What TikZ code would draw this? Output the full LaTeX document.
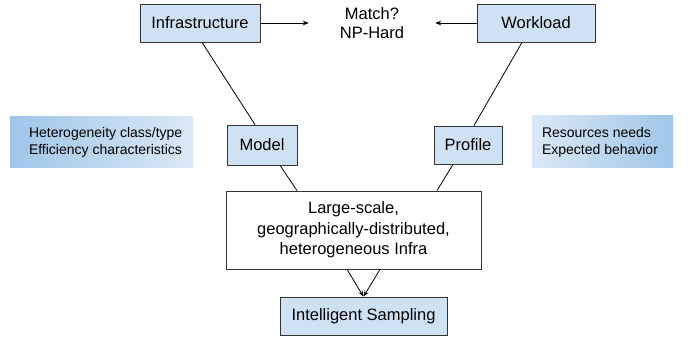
\documentclass[tikz,border=0pt]{standalone}
\usepackage{fontspec}
\setmainfont{Liberation Sans}
\usetikzlibrary{arrows.meta,calc}
\definecolor{boxblue}{HTML}{CFE2F3}
\definecolor{gradDark}{HTML}{9FC5E8}
\definecolor{gradLight}{HTML}{DBE9F6}
\definecolor{edgegray}{HTML}{333333}
\tikzset{
  bluebox/.style={draw=edgegray, line width=0.8pt, fill=boxblue, inner sep=0pt, font=\fontsize{16.5}{20}\selectfont},
  whitebox/.style={draw=edgegray, line width=0.8pt, fill=white, inner sep=0pt, align=center, font=\fontsize{16.5}{20.5}\selectfont},
  plaintext/.style={inner sep=0pt, align=center, font=\fontsize{16.5}{19.5}\selectfont},
  gradbox/.style={inner sep=0pt, draw=none},
  gradtext/.style={inner sep=0pt, align=left, anchor=west, font=\fontsize{14}{17}\selectfont},
  link/.style={draw=black, line width=0.8pt},
  arr/.style={link, -{Stealth[length=6pt,width=4.5pt]}}
}
\begin{document}
\begin{tikzpicture}[x=1pt,y=-1pt]
\useasboundingbox (0,0) rectangle (688,339);
% main boxes
\node[bluebox, minimum width=120, minimum height=38] (infra) at (200,23) {Infrastructure};
\node[bluebox, minimum width=118, minimum height=38] (work) at (536,23) {Workload};
\node[plaintext, minimum width=126] (match) at (372,23) {Match?\\NP-Hard};
\node[bluebox, minimum width=70, minimum height=40] (model) at (262,145) {Model};
\node[bluebox, minimum width=68, minimum height=38] (profile) at (468,145) {Profile};
\node[whitebox, minimum width=255, minimum height=78] (large) at (353.5,230) {Large-scale,\\geographically-distributed,\\heterogeneous Infra};
\node[bluebox, minimum width=167, minimum height=38] (sampling) at (363.5,316) {Intelligent Sampling};
% gradient boxes
\node[gradbox, minimum width=183, minimum height=51, left color=gradDark, right color=gradLight] (hetbox) at (101.5,142.5) {};
\node[gradtext] (hettext) at ([xshift=19pt]hetbox.west) {Heterogeneity class/type\\Efficiency characteristics};
\node[gradbox, minimum width=141, minimum height=52, left color=gradLight, right color=gradDark] (resbox) at (602.5,142) {};
\node[gradtext] (restext) at ([xshift=10pt]resbox.west) {Resources needs\\Expected behavior};
% connectors
\draw[arr] (infra.east) -- (match.west);
\draw[arr] (work.west) -- (match.east);
\draw[link] ([xshift=2pt]infra.south) -- ([xshift=-7pt]model.north);
\draw[link] ([xshift=18pt]model.south) -- ([xshift=-56.5pt]large.north);
\draw[link] ([xshift=-14pt]work.south) -- ([xshift=6pt]profile.north);
\draw[link] ([xshift=-15pt]profile.south) -- ([xshift=83.5pt]large.north);
\draw[arr] ([xshift=-6.5pt]large.south) -- (sampling.north);
\draw[arr] ([xshift=26.5pt]large.south) -- (sampling.north);
\end{tikzpicture}
\end{document}
